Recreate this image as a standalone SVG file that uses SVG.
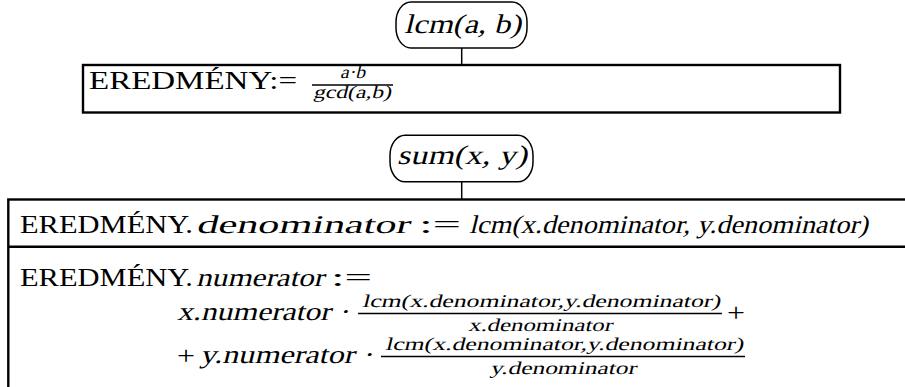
<svg xmlns="http://www.w3.org/2000/svg" width="905" height="387" viewBox="0 0 905 387">
<style>
.box{fill:none;stroke:#000;stroke-width:2.4}
.node{fill:#fff;stroke:#000;stroke-width:1.5}
.conn{stroke:#000;stroke-width:1.5;fill:none}
.bar{stroke:#000;stroke-width:1.5}
text{font-family:"Liberation Serif","Times New Roman",serif;fill:#000;font-style:normal}
.big{font-size:25.5px}
.ttl{font-size:27px}
.sm{font-size:18px}
</style>
<rect width="905" height="387" fill="#fff"/>
<g id="connectors">
<line class="conn" x1="461.7" y1="48" x2="461.7" y2="65"/>
<line class="conn" x1="461.7" y1="181.8" x2="461.7" y2="199.5"/>
</g>
<g id="lcm">
<rect class="node" x="396" y="2" width="131" height="46" rx="15" ry="20"/>
<text class="ttl" transform="translate(404,33) skewX(-14)" textLength="117" lengthAdjust="spacingAndGlyphs">lcm(a, b)</text>
</g>
<g id="lcm-result">
<rect class="box" x="83" y="65" width="757" height="47.5"/>
<text class="big" x="89" y="89" textLength="208" lengthAdjust="spacingAndGlyphs">EREDMÉNY:=</text>
<text class="sm" transform="translate(340,78) skewX(-14)" textLength="25" lengthAdjust="spacingAndGlyphs">a·b</text>
<line class="bar" x1="312" y1="85" x2="393" y2="85"/>
<text class="sm" transform="translate(313,98) skewX(-14)" textLength="78" lengthAdjust="spacingAndGlyphs">gcd(a,b)</text>
</g>
<g id="sum">
<rect class="node" x="390" y="135.3" width="143" height="46.5" rx="15" ry="20"/>
<text class="ttl" transform="translate(397,164) skewX(-14)" textLength="130" lengthAdjust="spacingAndGlyphs">sum(x, y)</text>
</g>
<g id="sum-body">
<rect class="box" x="8.3" y="199.5" width="905" height="200"/>
<line class="box" x1="8.3" y1="246.7" x2="910" y2="246.7"/>
<text class="big" x="20" y="233" textLength="173" lengthAdjust="spacingAndGlyphs">EREDMÉNY.</text>
<text class="big" transform="translate(196,233) skewX(-14)" textLength="213" lengthAdjust="spacingAndGlyphs">denominator</text>
<text class="big" x="419" y="233" textLength="42" lengthAdjust="spacingAndGlyphs">:=</text>
<text class="big" transform="translate(469,233) skewX(-14)" textLength="399" lengthAdjust="spacingAndGlyphs">lcm(x.denominator, y.denominator)</text>
<text class="big" x="20" y="286" textLength="173" lengthAdjust="spacingAndGlyphs">EREDMÉNY.</text>
<text class="big" transform="translate(196,286) skewX(-14)" textLength="128" lengthAdjust="spacingAndGlyphs">numerator</text>
<text class="big" x="331" y="286" textLength="41" lengthAdjust="spacingAndGlyphs">:=</text>
<text class="big" transform="translate(177,320) skewX(-14)" textLength="172" lengthAdjust="spacingAndGlyphs">x.numerator ·</text>
<text class="sm" transform="translate(362,307) skewX(-14)" textLength="358" lengthAdjust="spacingAndGlyphs">lcm(x.denominator,y.denominator)</text>
<line class="bar" x1="358" y1="313.5" x2="722" y2="313.5"/>
<text class="sm" transform="translate(468,331) skewX(-14)" textLength="144" lengthAdjust="spacingAndGlyphs">x.denominator</text>
<text class="big" x="727" y="321" textLength="18" lengthAdjust="spacingAndGlyphs">+</text>
<text class="big" x="177" y="364" textLength="18" lengthAdjust="spacingAndGlyphs">+</text>
<text class="big" transform="translate(200,363) skewX(-14)" textLength="173" lengthAdjust="spacingAndGlyphs">y.numerator ·</text>
<text class="sm" transform="translate(385,350) skewX(-14)" textLength="358" lengthAdjust="spacingAndGlyphs">lcm(x.denominator,y.denominator)</text>
<line class="bar" x1="381" y1="356.5" x2="745" y2="356.5"/>
<text class="sm" transform="translate(490,374) skewX(-14)" textLength="146" lengthAdjust="spacingAndGlyphs">y.denominator</text>
</g>
</svg>
